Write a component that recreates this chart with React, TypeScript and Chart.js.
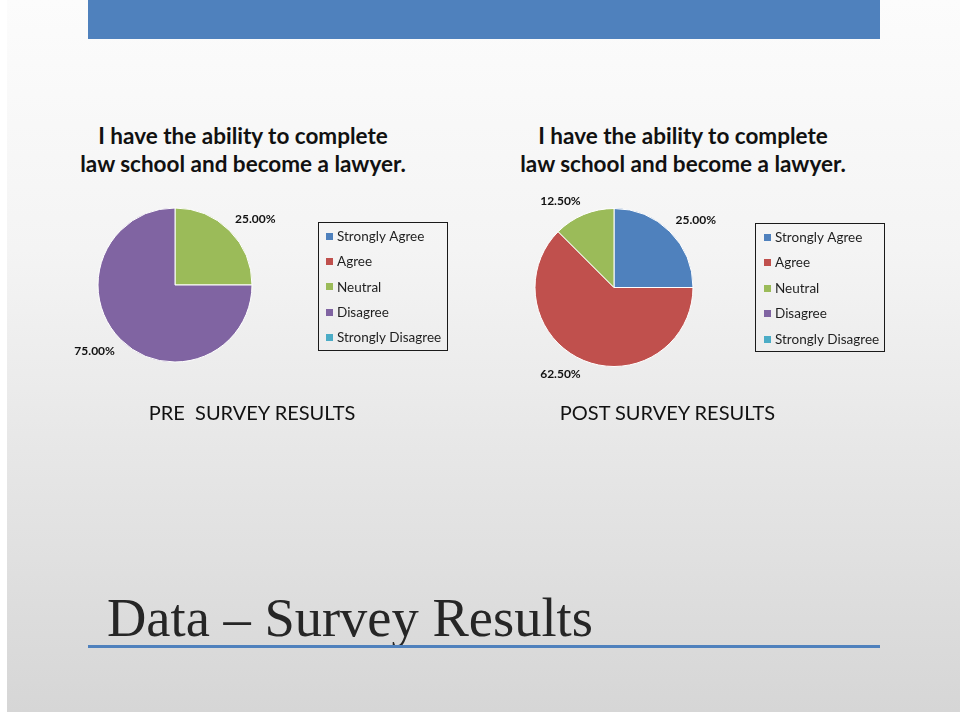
import React, { useEffect, useRef } from "react";
import { Chart, registerables } from "chart.js";

Chart.register(...registerables);

// ---------- data ----------
const categories = ["Strongly Agree", "Agree", "Neutral", "Disagree", "Strongly Disagree"];
const preValues = [0, 0, 25, 75, 0];
const postValues = [25, 62.5, 12.5, 0, 0];
const sliceColors = ["#4F81BD", "#C0504D", "#9BBB59", "#8064A2", "#4BACC6"];
const chartTitleLines = ["I have the ability to complete", "law school and become a lawyer."];
const preCaption = "PRE\u00a0\u00a0SURVEY RESULTS";
const postCaption = "POST SURVEY RESULTS";
const slideTitle = "Data \u2013 Survey Results";

const SANS = "Lato, 'Open Sans', 'Liberation Sans', sans-serif";

const sliceLabelPlugin = {
  id: "sliceLabels",
  afterDatasetsDraw(chart: any) {
    const opts = chart.options.plugins.sliceLabels;
    if (!opts) return;
    const ctx = chart.ctx;
    const meta = chart.getDatasetMeta(0);
    const data = chart.data.datasets[0].data as number[];
    ctx.save();
    ctx.font = opts.font;
    ctx.fillStyle = opts.color;
    meta.data.forEach((arc: any, i: number) => {
      const v = data[i];
      if (!v) return;
      const p = arc.getProps(["x", "y", "startAngle", "endAngle", "outerRadius"], true);
      const mid = (p.startAngle + p.endAngle) / 2;
      const r = p.outerRadius + opts.offset;
      const c = Math.cos(mid);
      const s = Math.sin(mid);
      ctx.textAlign = c > 0.1 ? "left" : c < -0.1 ? "right" : "center";
      ctx.textBaseline = s < -0.1 ? "bottom" : s > 0.1 ? "top" : "middle";
      ctx.fillText(v.toFixed(2) + "%", p.x + r * c, p.y + r * s);
    });
    ctx.restore();
  },
};

const boxLegendPlugin = {
  id: "boxLegend",
  afterDraw(chart: any) {
    const o = chart.options.plugins.boxLegend;
    if (!o) return;
    const ctx = chart.ctx;
    const labels = chart.data.labels as string[];
    const colors = chart.data.datasets[0].backgroundColor as string[];
    ctx.save();
    ctx.strokeStyle = "#1a1a1a";
    ctx.lineWidth = 1;
    ctx.strokeRect(o.x + 0.5, o.y + 0.5, o.w, o.h);
    ctx.font = o.font;
    ctx.textAlign = "left";
    ctx.textBaseline = "middle";
    labels.forEach((lab, i) => {
      const cy = o.firstY + i * o.step;
      ctx.fillStyle = colors[i];
      ctx.fillRect(o.swatchX, Math.round(cy - 3.5), 7, 7);
      ctx.fillStyle = "#1f1f1f";
      ctx.fillText(lab, o.textX, cy + 0.5);
    });
    ctx.restore();
  },
};

type PieProps = {
  values: number[];
  left: number;
  top: number;
  padding: { left: number; top: number; right: number; bottom: number };
  legend: { x: number; y: number; w: number; h: number; swatchX: number; textX: number; firstY: number; step: number };
};

function SurveyPie({ values, left, top, padding, legend }: PieProps) {
  const ref = useRef<HTMLCanvasElement>(null);
  useEffect(() => {
    if (!ref.current) return;
    const chart = new Chart(ref.current, {
      type: "pie",
      data: {
        labels: categories,
        datasets: [
          {
            data: values,
            backgroundColor: sliceColors,
            borderColor: "#ffffff",
            borderWidth: 1,
          },
        ],
      },
      options: {
        responsive: false,
        animation: false,
        events: [],
        layout: { padding },
        plugins: {
          legend: { display: false },
          tooltip: { enabled: false },
          title: { display: false },
          sliceLabels: { font: `bold 12px ${SANS}`, color: "#111", offset: 8 },
          boxLegend: { ...legend, font: `13.5px ${SANS}` },
        } as any,
      },
      plugins: [sliceLabelPlugin, boxLegendPlugin],
    });
    return () => chart.destroy();
  }, []);
  return (
    <canvas
      ref={ref}
      width={440}
      height={300}
      style={{ position: "absolute", left, top, width: 440, height: 300 }}
    />
  );
}

function ChartTitle({ center }: { center: number }) {
  return (
    <div
      style={{
        position: "absolute",
        left: center - 220,
        top: 122,
        width: 440,
        textAlign: "center",
        fontFamily: SANS,
        fontWeight: 700,
        fontSize: 22.5,
        lineHeight: "28px",
        color: "#111",
      }}
    >
      {chartTitleLines.map((l) => (
        <div key={l}>{l}</div>
      ))}
    </div>
  );
}

function Caption({ center, text }: { center: number; text: string }) {
  return (
    <div
      style={{
        position: "absolute",
        left: center - 150,
        top: 402,
        width: 300,
        textAlign: "center",
        fontFamily: SANS,
        fontSize: 20,
        lineHeight: "20px",
        color: "#111",
        whiteSpace: "pre",
      }}
    >
      {text}
    </div>
  );
}

export default function App() {
  return (
    <div
      style={{
        position: "fixed",
        left: 0,
        top: 0,
        width: 960,
        height: 712,
        background: "#ffffff",
        overflow: "hidden",
      }}
    >
      <div
        style={{
          position: "absolute",
          left: 7,
          top: 0,
          width: 953,
          height: 712,
          background: "linear-gradient(to bottom, #fcfcfc 0%, #f4f4f4 35%, #d6d6d6 100%)",
        }}
      />
      <div style={{ position: "absolute", left: 88, top: 0, width: 792, height: 39, background: "#4F81BD" }} />

      <ChartTitle center={243} />
      <ChartTitle center={683} />

      <SurveyPie
        values={preValues}
        left={50}
        top={190}
        padding={{ left: 47.5, top: 17.5, right: 440 - 47.5 - 155, bottom: 300 - 17.5 - 155 }}
        legend={{ x: 268, y: 32, w: 129, h: 128, swatchX: 276, textX: 287, firstY: 46, step: 25.4 }}
      />
      <SurveyPie
        values={postValues}
        left={490}
        top={190}
        padding={{ left: 44.5, top: 18, right: 440 - 44.5 - 159, bottom: 300 - 18 - 159 }}
        legend={{ x: 265, y: 33, w: 129, h: 128, swatchX: 274, textX: 285, firstY: 47, step: 25.5 }}
      />

      <Caption center={252} text={preCaption} />
      <Caption center={667.5} text={postCaption} />

      <div
        style={{
          position: "absolute",
          left: 107,
          top: 591,
          fontFamily: "'Liberation Serif', 'DejaVu Serif', serif",
          fontSize: 54.5,
          lineHeight: "54.5px",
          color: "#262626",
          whiteSpace: "nowrap",
        }}
      >
        {slideTitle}
      </div>
      <div style={{ position: "absolute", left: 88, top: 645, width: 792, height: 3, background: "#4F81BD" }} />
    </div>
  );
}
